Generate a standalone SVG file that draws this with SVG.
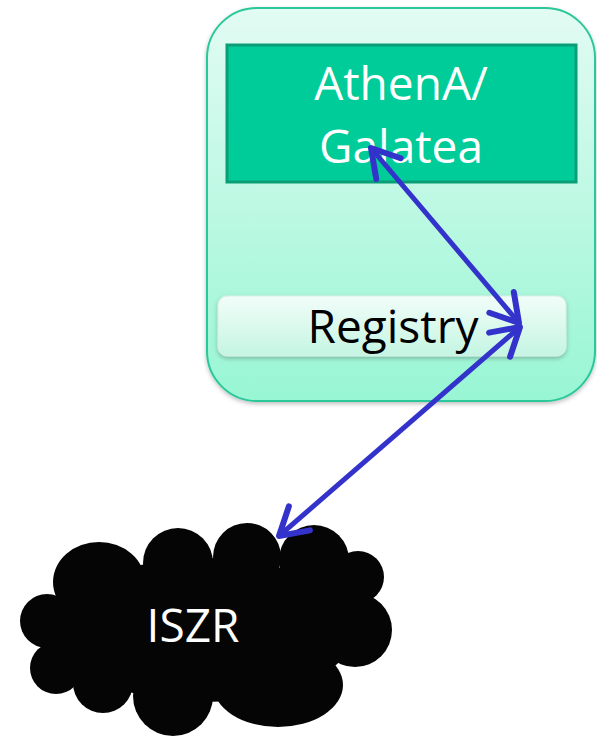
<svg xmlns="http://www.w3.org/2000/svg" width="597" height="736" viewBox="0 0 597 736">
<defs>
<linearGradient id="outerG" x1="0" y1="0" x2="0" y2="1">
<stop offset="0" stop-color="#e2fbf3"/>
<stop offset="1" stop-color="#98f6d4"/>
</linearGradient>
<linearGradient id="regG" x1="0" y1="0" x2="0" y2="1">
<stop offset="0" stop-color="#f2fdf9"/>
<stop offset="1" stop-color="#c4f5e2"/>
</linearGradient>
<filter id="sh" x="-10%" y="-10%" width="120%" height="130%">
<feDropShadow dx="0" dy="2" stdDeviation="2" flood-color="#000" flood-opacity="0.25"/>
</filter>
<marker id="ah" markerUnits="userSpaceOnUse" markerWidth="60" markerHeight="60" refX="0" refY="0" orient="auto-start-reverse" overflow="visible">
<path d="M-27,-16 L0,0 L-27,16" fill="none" stroke="#3333cc" stroke-width="6" stroke-linecap="round" stroke-linejoin="round"/>
</marker>
<style>
.lbl{font-family:"Open Sans","Liberation Sans",sans-serif;font-size:46px;text-anchor:middle}
.conn{fill:none;stroke:#3333cc;stroke-width:5;marker-start:url(#ah);marker-end:url(#ah)}
.puff{fill:#050505}
</style>
</defs>
<g id="container">
<rect x="207" y="8" width="388" height="393" rx="50" fill="url(#outerG)" stroke="#2cc79a" stroke-width="2" filter="url(#sh)"/>
</g>
<g id="athena">
<rect x="227" y="45" width="349" height="137" fill="#00cc99" stroke="#0a9e76" stroke-width="3"/>
<text class="lbl" x="401" y="100" fill="#ffffff">AthenA/</text>
<text class="lbl" x="401" y="163" fill="#ffffff">Galatea</text>
</g>
<g id="registry">
<rect x="218" y="296" width="348" height="60" rx="9" fill="url(#regG)" stroke="#d8eee6" stroke-width="1" filter="url(#sh)"/>
<text class="lbl" x="393" y="343" fill="#000000">Registry</text>
</g>
<g id="iszr">
<ellipse class="puff" cx="205" cy="630" rx="150" ry="72"/>
<circle class="puff" cx="330" cy="600" r="34"/>
<circle class="puff" cx="47" cy="621" r="27"/>
<circle class="puff" cx="56" cy="668" r="26"/>
<circle class="puff" cx="103" cy="683" r="30"/>
<circle class="puff" cx="173" cy="696" r="40"/>
<ellipse class="puff" cx="278" cy="685" rx="65" ry="42"/>
<circle class="puff" cx="355" cy="630" r="37"/>
<circle class="puff" cx="358" cy="577" r="26"/>
<circle class="puff" cx="314" cy="560" r="35"/>
<circle class="puff" cx="247" cy="557" r="34"/>
<circle class="puff" cx="178" cy="563" r="35"/>
<ellipse class="puff" cx="99" cy="582" rx="46" ry="40"/>
<text class="lbl" x="193" y="642" fill="#ffffff">ISZR</text>
</g>
<g id="connectors">
<line class="conn" x1="371" y1="148" x2="519" y2="323"/>
<line class="conn" x1="520" y1="327" x2="279" y2="536"/>
</g>
</svg>
